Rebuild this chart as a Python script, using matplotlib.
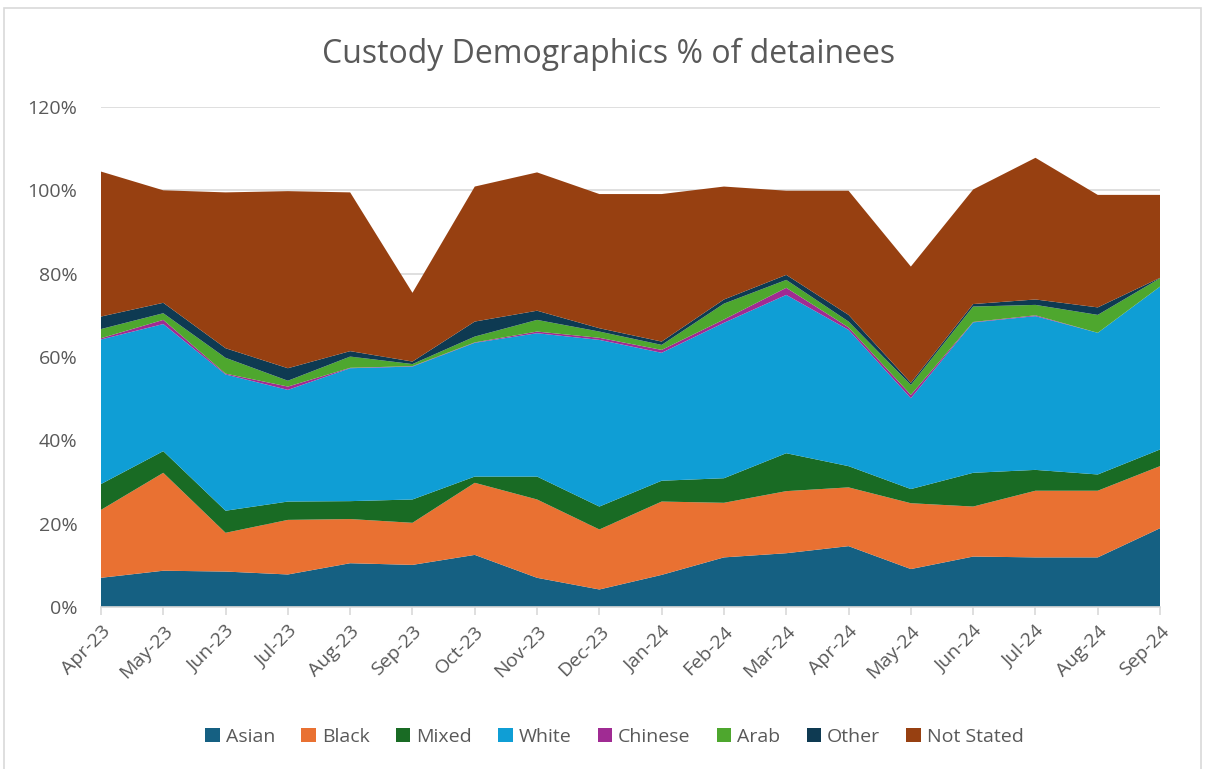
import numpy as np
import matplotlib
matplotlib.use("Agg")
import matplotlib.pyplot as plt
from matplotlib.patches import Rectangle
from matplotlib.ticker import FuncFormatter

plt.rcParams['font.family'] = ['Open Sans', 'DejaVu Sans']

months = ["Apr-23", "May-23", "Jun-23", "Jul-23", "Aug-23", "Sep-23", "Oct-23",
          "Nov-23", "Dec-23", "Jan-24", "Feb-24", "Mar-24", "Apr-24", "May-24",
          "Jun-24", "Jul-24", "Aug-24", "Sep-24"]

# percentages of detainees by group
asian = [7.0, 8.7, 8.5, 7.8, 10.5, 10.1, 12.5, 7.0, 4.2, 7.7, 11.9, 12.9, 14.6, 9.1, 12.1, 11.9, 11.9, 18.9]
black = [16.3, 23.5, 9.3, 13.1, 10.6, 10.1, 17.3, 18.8, 14.4, 17.6, 13.1, 14.9, 14.1, 15.8, 12.0, 16.0, 16.0, 14.9]
mixed = [6.2, 5.2, 5.3, 4.4, 4.3, 5.6, 1.5, 5.5, 5.5, 5.0, 5.9, 9.1, 5.1, 3.4, 8.1, 5.0, 3.9, 4.0]
white = [34.7, 30.5, 32.7, 26.8, 31.9, 31.9, 32.1, 34.4, 40.0, 30.7, 37.3, 38.0, 32.7, 21.8, 36.1, 36.9, 34.0, 39.1]
chinese = [0.3, 1.0, 0.2, 0.8, 0.1, 0.1, 0.1, 0.4, 0.5, 0.7, 0.8, 1.7, 0.6, 0.8, 0.1, 0.2, 0.0, 0.0]
arab = [2.2, 1.6, 3.8, 1.4, 2.7, 0.5, 1.4, 2.8, 1.5, 1.2, 3.8, 1.9, 1.4, 2.4, 3.7, 2.5, 4.3, 2.0]
other = [3.0, 2.5, 2.3, 3.0, 1.3, 0.6, 3.6, 2.2, 0.8, 0.8, 1.0, 1.2, 1.6, 0.5, 0.6, 1.3, 1.8, 0.1]
not_stated = [34.8, 27.0, 37.4, 42.5, 38.1, 16.5, 32.4, 33.2, 32.2, 35.4, 27.1, 20.2, 29.8, 27.9, 27.5, 34.0, 27.0, 19.9]

labels = ["Asian", "Black", "Mixed", "White", "Chinese", "Arab", "Other", "Not Stated"]
colors = ["#156082", "#E97132", "#196B24", "#0F9ED5", "#A02B93", "#4EA72E", "#0E3A52", "#974011"]

fig = plt.figure(figsize=(12.05, 7.69), dpi=100)
ax = fig.add_axes([0.0838, 0.2107, 0.8789, 0.6502])

x = np.arange(len(months))
ax.stackplot(x, asian, black, mixed, white, chinese, arab, other, not_stated,
             labels=labels, colors=colors, zorder=2)

ax.set_xlim(0, len(months) - 1)
ax.set_ylim(0, 120)
ax.set_yticks(np.arange(0, 121, 20))
ax.yaxis.set_major_formatter(FuncFormatter(lambda v, p: f"{v:.0f}%"))
ax.grid(axis='y', color='#D9D9D9', linewidth=1.2, zorder=0)
ax.set_axisbelow(True)

ax.set_xticks(x)
ax.set_xticklabels(months, rotation=45, ha='right', rotation_mode='anchor')
ax.tick_params(axis='x', colors='#D9D9D9', labelcolor='#595959', labelsize=14,
               length=6, width=1.2, pad=5)
ax.tick_params(axis='y', length=0, labelcolor='#595959', labelsize=14, pad=17)

for s in ['top', 'right', 'left']:
    ax.spines[s].set_visible(False)
ax.spines['bottom'].set_color('#D9D9D9')
ax.spines['bottom'].set_linewidth(1.2)

fig.text(0.505, 0.929, "Custody Demographics % of detainees", ha='center', va='center',
         fontsize=23, color='#595959')

fig.legend(loc='center', bbox_to_anchor=(0.51, 0.042), ncol=8, frameon=False,
           fontsize=14, handlelength=0.75, handleheight=0.75, handletextpad=0.3,
           columnspacing=1.35, labelcolor='#595959')

fig.patches.append(Rectangle((0.003, -0.01), 0.994, 1.0, transform=fig.transFigure,
                             fill=False, edgecolor='#D9D9D9', linewidth=1.2))

fig.savefig("out.png", dpi=100)
